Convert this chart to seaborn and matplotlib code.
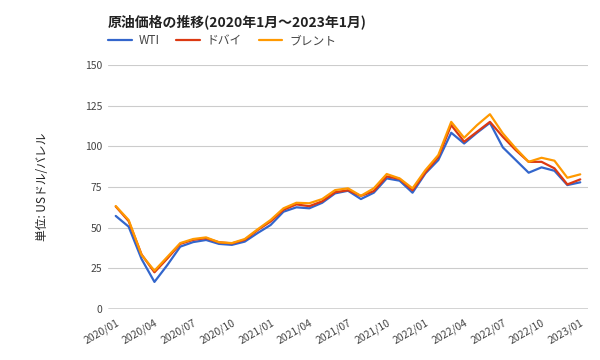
import pandas as pd
import numpy as np
import matplotlib.pyplot as plt
import seaborn as sns

sns.set_style("white")
plt.rcParams['font.family'] = ['Noto Sans CJK JP', 'DejaVu Sans']

months = [f"{y}/{m:02d}" for y in (2020, 2021, 2022) for m in range(1, 13)] + ["2023/01"]

wti = [57.2, 50.6, 30.7, 16.6, 27.0, 38.3, 41.1, 42.4, 40.0, 39.4, 41.4, 46.7,
       51.6, 59.8, 62.5, 61.9, 65.3, 71.1, 72.7, 67.6, 71.5, 80.3, 78.9, 71.5,
       83.4, 91.6, 108.4, 101.8, 108.4, 114.5, 99.4, 91.6, 83.8, 87.1, 85.0, 76.2,
       77.9]
dubai = [63.0, 54.0, 33.5, 22.5, 31.0, 40.0, 42.5, 43.5, 41.0, 40.3, 42.5, 48.5,
         53.8, 61.0, 64.3, 63.2, 66.2, 71.8, 73.0, 69.5, 72.5, 81.5, 80.0, 73.0,
         84.0, 93.5, 113.1, 102.9, 109.0, 115.1, 105.9, 97.7, 90.5, 90.5, 86.5, 76.6,
         79.7]
brent = [63.3, 54.7, 33.2, 23.5, 32.0, 40.5, 43.0, 44.0, 41.0, 40.5, 43.0, 49.0,
         54.7, 61.9, 65.3, 65.0, 67.6, 73.1, 74.2, 69.6, 74.2, 83.0, 80.3, 74.2,
         85.4, 94.7, 115.1, 105.3, 113.1, 119.8, 108.0, 98.8, 90.5, 93.0, 91.2, 80.7,
         82.8]

series = ["WTI", "ドバイ", "ブレント"]
palette = {"WTI": "#3366CC", "ドバイ": "#DC3912", "ブレント": "#FF9900"}

df = pd.DataFrame({"month": months * 3,
                   "idx": list(range(len(months))) * 3,
                   "price": wti + dubai + brent,
                   "series": ["WTI"] * len(months) + ["ドバイ"] * len(months) + ["ブレント"] * len(months)})

fig = plt.figure(figsize=(6, 3.6), dpi=100)
ax = fig.add_axes([0.18, 0.142, 0.8, 0.677])

sns.lineplot(data=df, x="idx", y="price", hue="series", hue_order=series,
             palette=palette, linewidth=1.6, ax=ax)

ax.set_xlim(-0.6, 36.6)
ax.set_ylim(0, 150)
ax.set_yticks(np.arange(0, 151, 25))
ax.grid(axis="y", color="#cccccc", linewidth=0.8)
ax.axhline(0, color="#333333", linewidth=1.0)
for s in ax.spines.values():
    s.set_visible(False)

ax.set_xticks(range(0, len(months), 3))
ax.set_xticklabels(months[::3], rotation=30, ha="right", rotation_mode="anchor")
ax.tick_params(axis="both", length=0, labelsize=7.5, colors="#444444", pad=4)
ax.tick_params(axis="x", pad=6)

ax.set_xlabel("")
ax.set_ylabel("単位: USドル/バレル", fontsize=8.5, color="#222222", labelpad=26)

fig.text(0.18, 0.94, "原油価格の推移(2020年1月～2023年1月)", fontsize=10,
         fontweight="bold", color="#222222", va="center")
ax.legend(loc="upper left", bbox_to_anchor=(0.18, 0.905), bbox_transform=fig.transFigure,
          ncol=3, frameon=False, fontsize=8.5, handlelength=2.0, columnspacing=1.4,
          handletextpad=0.6, borderpad=0, borderaxespad=0)
for t in ax.get_legend().get_texts():
    t.set_color("#444444")

fig.savefig("out.png", dpi=100, facecolor="white")
